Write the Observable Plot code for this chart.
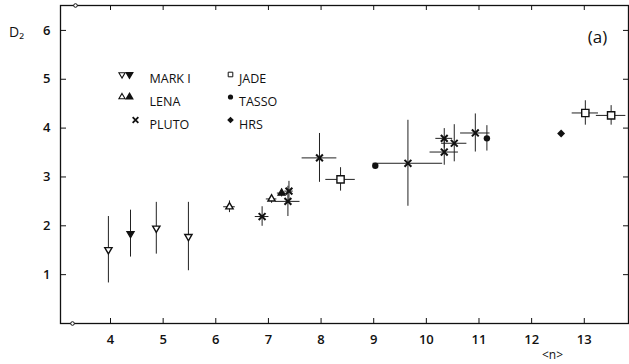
<!DOCTYPE html>
<html><head><meta charset="utf-8">
<script src="https://cdn.jsdelivr.net/npm/d3@7"></script>
<script src="https://cdn.jsdelivr.net/npm/@observablehq/plot@0.6"></script>
<style>
html,body{margin:0;padding:0;background:#fff;}
#wrap{position:relative;width:629px;height:364px;overflow:hidden;font-family:"Open Sans",sans-serif;}
#wrap svg{display:block;}
</style></head><body><div id="wrap"></div>
<script>
// Tick values
const xTicks = [4, 5, 6, 7, 8, 9, 10, 11, 12, 13];
const yTicks = [1, 2, 3, 4, 5, 6];

// Each row: [<n>, D2, error in <n>, error in D2, filled]
const MARK_I = [
  [3.96, 1.51, 0, 0.68, false],
  [4.38, 1.84, 0, 0.48, true],
  [4.87, 1.95, 0, 0.53, false],
  [5.48, 1.78, 0, 0.70, false]
];
const LENA = [
  [6.26, 2.39, 0.11, 0.12, false],
  [7.06, 2.55, 0.10, 0.09, false],
  [7.25, 2.67, 0.08, 0.08, true]
];
const PLUTO = [
  [6.88, 2.19, 0.13, 0.20],
  [7.37, 2.50, 0.23, 0.31],
  [7.39, 2.71, 0.08, 0.20],
  [7.97, 3.39, 0.33, 0.50],
  [9.65, 3.28, 0.66, 0.88],
  [10.34, 3.51, 0.27, 0.27],
  [10.34, 3.79, 0.16, 0.20],
  [10.53, 3.69, 0.24, 0.38],
  [10.93, 3.90, 0.28, 0.39]
];
const JADE = [
  [8.37, 2.95, 0.28, 0.24],
  [13.02, 4.31, 0.25, 0.25],
  [13.51, 4.26, 0.28, 0.20]
];
const TASSO = [
  [9.03, 3.23, 0, 0],
  [11.15, 3.79, 0, 0.26]
];
const HRS = [
  [12.56, 3.89, 0, 0]
];

// legend labels
const legendLeft = ["MARK I", "LENA", "PLUTO"];
const legendRight = ["JADE", "TASSO", "HRS"];

const toRows = (arr, exp) => arr.map(([n, d2, en, ed, filled]) => ({exp, n, d2, en, ed, filled: !!filled}));
const all = [
  ...toRows(MARK_I, "MARK I"), ...toRows(LENA, "LENA"), ...toRows(PLUTO, "PLUTO"),
  ...toRows(JADE, "JADE"), ...toRows(TASSO, "TASSO"), ...toRows(HRS, "HRS")
];

// custom symbols
const triDown = {draw(ctx, size) {
  const y = Math.sqrt(size / (3 * Math.sqrt(3)));
  ctx.moveTo(0, 2 * y); ctx.lineTo(-Math.sqrt(3) * y, -y); ctx.lineTo(Math.sqrt(3) * y, -y); ctx.closePath();
}};
const triUp = {draw(ctx, size) {
  const y = -Math.sqrt(size / (3 * Math.sqrt(3)));
  ctx.moveTo(0, 2 * y); ctx.lineTo(-Math.sqrt(3) * y, -y); ctx.lineTo(Math.sqrt(3) * y, -y); ctx.closePath();
}};
const diamond = {draw(ctx, size) {
  const s = Math.sqrt(size) * 0.72;
  ctx.moveTo(0, -s); ctx.lineTo(s, 0); ctx.lineTo(0, s); ctx.lineTo(-s, 0); ctx.closePath();
}};

const W = 629, H = 364, mT = 5, mB = 41, mL = 60, mR = 1;
const FW = W - mL - mR, FH = H - mT - mB;

const sel = (e, f) => all.filter(d => d.exp === e && (f === undefined || d.filled === f));
const rowDy = [69, 91.5, 114.5];
const legendText = (labels, dx) => labels.map((t, i) =>
  Plot.text([t], {frameAnchor: "top-left", dx, dy: rowDy[i], text: d => d, textAnchor: "start",
    fontSize: 12.5, fontWeight: 400, fill: "#111"}));

const chart = Plot.plot({
  width: W, height: H,
  marginTop: mT, marginBottom: mB, marginLeft: mL, marginRight: mR,
  x: {domain: [3.05, 13.84]},
  y: {domain: [0, 6.51]},
  style: {fontFamily: "Open Sans, sans-serif", fontSize: "13px", fontWeight: 600, color: "#111", background: "white"},
  marks: [
    Plot.frame({stroke: "#111", strokeWidth: 1.3}),
    Plot.tickX(xTicks, {x: d => d, insetTop: FH - 5, stroke: "#111"}),
    Plot.tickX(xTicks, {x: d => d, insetBottom: FH - 5, stroke: "#111"}),
    Plot.tickY(yTicks, {y: d => d, insetRight: FW - 6, stroke: "#111"}),
    Plot.tickY(yTicks, {y: d => d, insetLeft: FW - 5, stroke: "#111"}),
    // small axis-break marks near the left end of the top and bottom axes
    Plot.dot([0], {frameAnchor: "bottom-left", dx: 12, symbol: "circle", r: 1.8, fill: "white", stroke: "#111", strokeWidth: 1}),
    Plot.dot([0], {frameAnchor: "top-left", dx: 15, symbol: "circle", r: 1.8, fill: "white", stroke: "#111", strokeWidth: 1}),
    Plot.axisX({anchor: "bottom", ticks: xTicks, tickSize: 0, tickPadding: 11, tickFormat: d => String(d), label: null}),
    Plot.axisY({anchor: "left", ticks: yTicks, tickSize: 0, tickPadding: 10, tickFormat: d => String(d), label: null}),
    // error bars
    Plot.ruleX(all.filter(d => d.ed > 0), {x: "n", y1: d => d.d2 - d.ed, y2: d => d.d2 + d.ed, stroke: "#222", strokeWidth: 1}),
    Plot.ruleY(all.filter(d => d.en > 0), {y: "d2", x1: d => d.n - d.en, x2: d => d.n + d.en, stroke: "#222", strokeWidth: 1}),
    // markers
    Plot.dot(sel("MARK I", false), {x: "n", y: "d2", symbol: triDown, r: 2.7, fill: "white", stroke: "#111", strokeWidth: 1.4}),
    Plot.dot(sel("MARK I", true), {x: "n", y: "d2", symbol: triDown, r: 2.7, fill: "#111", stroke: "#111", strokeWidth: 1.2}),
    Plot.dot(sel("LENA", false), {x: "n", y: "d2", symbol: triUp, r: 2.7, fill: "white", stroke: "#111", strokeWidth: 1.4}),
    Plot.dot(sel("LENA", true), {x: "n", y: "d2", symbol: triUp, r: 2.7, fill: "#111", stroke: "#111", strokeWidth: 1.2}),
    Plot.dot(sel("PLUTO"), {x: "n", y: "d2", symbol: "times", r: 3.2, stroke: "#111", strokeWidth: 2}),
    Plot.dot(sel("JADE"), {x: "n", y: "d2", symbol: "square", r: 4.1, fill: "white", stroke: "#111", strokeWidth: 1.4}),
    Plot.dot(sel("TASSO"), {x: "n", y: "d2", symbol: "circle", r: 3.2, fill: "#111"}),
    Plot.dot(sel("HRS"), {x: "n", y: "d2", symbol: diamond, r: 3.1, fill: "#111"}),
    // legend symbols
    Plot.dot([0], {frameAnchor: "top-left", dx: 61.5, dy: 69, symbol: triDown, r: 2.3, fill: "white", stroke: "#111", strokeWidth: 1.1}),
    Plot.dot([0], {frameAnchor: "top-left", dx: 69, dy: 69, symbol: triDown, r: 2.3, fill: "#111", stroke: "#111"}),
    Plot.dot([0], {frameAnchor: "top-left", dx: 61.5, dy: 91.5, symbol: triUp, r: 2.3, fill: "white", stroke: "#111", strokeWidth: 1.1}),
    Plot.dot([0], {frameAnchor: "top-left", dx: 69, dy: 91.5, symbol: triUp, r: 2.3, fill: "#111", stroke: "#111"}),
    Plot.dot([0], {frameAnchor: "top-left", dx: 75, dy: 114.5, symbol: "times", r: 2.7, stroke: "#111", strokeWidth: 1.8}),
    Plot.dot([0], {frameAnchor: "top-left", dx: 170, dy: 69, symbol: "square", r: 2.6, fill: "white", stroke: "#111", strokeWidth: 1}),
    Plot.dot([0], {frameAnchor: "top-left", dx: 170, dy: 91.5, symbol: "circle", r: 2.6, fill: "#111"}),
    Plot.dot([0], {frameAnchor: "top-left", dx: 170, dy: 114.5, symbol: diamond, r: 2.6, fill: "#111"}),
    ...legendText(legendLeft, 89),
    ...legendText(legendRight, 178.5),
    // labels
    Plot.text(["D₂"], {frameAnchor: "top-left", dx: -44, dy: 22, textAnchor: "middle", fontSize: 14, fontWeight: 400, fill: "#111"}),
    Plot.text(["(a)"], {frameAnchor: "top-right", dx: -31, dy: 25, textAnchor: "middle", fontSize: 17, fontWeight: 400, fill: "#111"}),
    Plot.text(["<n>"], {frameAnchor: "bottom-right", dx: -76, dy: 35, textAnchor: "middle", fontSize: 12, fontWeight: 400, fill: "#111"})
  ]
});

document.getElementById("wrap").appendChild(chart);
</script>
</body></html>
